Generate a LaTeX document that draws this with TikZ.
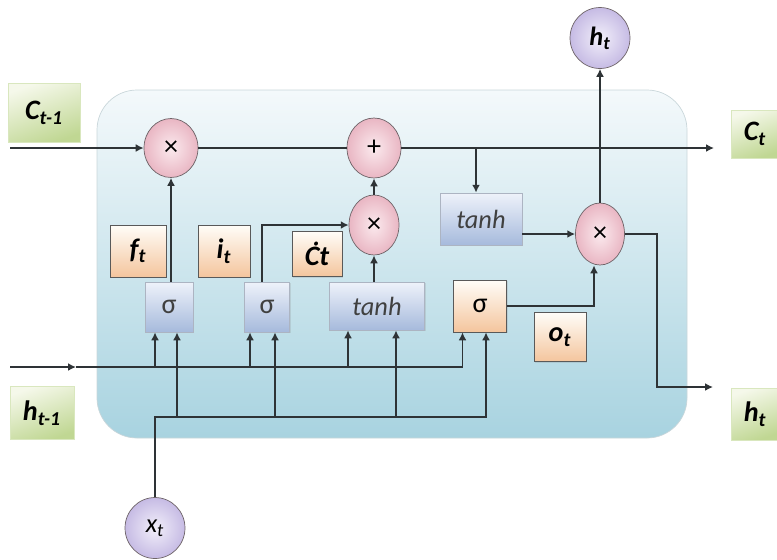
\documentclass[tikz,border=0pt]{standalone}
\usepackage{fontspec}
\setmainfont{Carlito}
\usepackage{tikz}
\usetikzlibrary{
  arrows.meta,
  shapes.geometric,
  positioning,
  calc,
  shadows
}
\definecolor{lsCellTop}{HTML}{F4F9FB}
\definecolor{lsCell}{HTML}{A8D3E0}
\definecolor{lsCellEdge}{HTML}{C9D6DA}
\definecolor{lsPinkIn}{HTML}{FBEAEE}
\definecolor{lsPink}{HTML}{E9B6C3}
\definecolor{lsLavIn}{HTML}{F2EFFA}
\definecolor{lsLav}{HTML}{C6BBE4}
\definecolor{lsBlueTop}{HTML}{EEF2FA}
\definecolor{lsBlue}{HTML}{A6BADC}
\definecolor{lsPeachTop}{HTML}{FFFDF8}
\definecolor{lsPeach}{HTML}{F4C59D}
\definecolor{lsGreenTop}{HTML}{F5F8EA}
\definecolor{lsGreen}{HTML}{C0D793}
\definecolor{lsEdge}{HTML}{6E6468}
\definecolor{lsWire}{HTML}{2E3336}
\tikzset{
  lsnode/.style={
    draw, inner sep=0pt, align=center, font=\fontsize{15}{17}\selectfont
  },
  pointop/.style={lsnode, ellipse, draw=lsEdge, inner color=lsPinkIn, outer color=lsPink,
    font=\fontsize{16}{18}\selectfont},
  vecnode/.style={lsnode, ellipse, draw=lsEdge, inner color=lsLavIn, outer color=lsLav,
    minimum width=1.2cm, minimum height=1.22cm},
  actbox/.style={lsnode, draw=lsBlue!70!black!60, top color=lsBlueTop, bottom color=lsBlue,
    text=black!75, drop shadow={opacity=0.2, shadow xshift=0.8pt, shadow yshift=-0.8pt}},
  gatebox/.style={lsnode, draw=black!65, top color=lsPeachTop, bottom color=lsPeach,
    font=\fontsize{16}{18}\selectfont\bfseries\itshape,
    drop shadow={opacity=0.2, shadow xshift=0.8pt, shadow yshift=-0.8pt}},
  statelabel/.style={lsnode, draw=lsGreen!60, top color=lsGreenTop, bottom color=lsGreen,
    shading angle=20, font=\fontsize{16}{18}\selectfont\bfseries\itshape},
  cellbox/.style={draw=lsCellEdge, rounded corners=0.8cm, top color=lsCellTop, bottom color=lsCell},
  wire/.style={line width=0.9pt, lsWire},
  flow/.style={wire, -{Latex[length=4.5pt, width=4.5pt]}}
}

\begin{document}
\begin{tikzpicture}[x=0.02cm, y=-0.02cm]
  \useasboundingbox (0,0) rectangle (777,559);
  \draw[cellbox] (97,90) rectangle (687,438);

  % outside labels
  \node[statelabel, minimum width=1.44cm, minimum height=1.18cm] (cprev) at (44,113) {C\textsubscript{t-1}};
  \node[statelabel, minimum width=0.96cm, minimum height=0.96cm] (cnext) at (755,134) {C\textsubscript{t}};
  \node[statelabel, minimum width=1.28cm, minimum height=1.06cm] (hprev) at (42,413) {h\textsubscript{t-1}};
  \node[statelabel, minimum width=0.96cm, minimum height=1.04cm] (hnext) at (755,414) {h\textsubscript{t}};

  % pointwise operations
  \node[pointop, minimum width=1.08cm, minimum height=1.18cm] (fmul) at (171,148) {×};
  \node[pointop, minimum width=1.08cm, minimum height=1.2cm] (addop) at (374,148) {+};
  \node[pointop, minimum width=1.0cm, minimum height=1.2cm] (cmul) at (374,225) {×};
  \node[pointop, minimum width=0.98cm, minimum height=1.24cm] (omul) at (600,234) {×};

  % vectors in and out
  \node[vecnode, font=\fontsize{15}{17}\selectfont\bfseries\itshape] (htop) at (600,38) {h\textsubscript{t}};
  \node[vecnode, font=\fontsize{15}{17}\selectfont\itshape] (xt) at (155,528) {x\textsubscript{t}};

  % layers
  \node[actbox, minimum width=0.96cm, minimum height=1.0cm, font=\fontsize{16}{18}\selectfont] (fsig) at (169,307) {σ};
  \node[actbox, minimum width=0.9cm, minimum height=1.0cm, font=\fontsize{16}{18}\selectfont] (isig) at (267,307) {σ};
  \node[actbox, minimum width=1.9cm, minimum height=0.96cm, font=\fontsize{15}{17}\selectfont\itshape] (ctanh) at (377,306) {tanh};
  \node[actbox, minimum width=1.64cm, minimum height=1.04cm, font=\fontsize{15}{17}\selectfont\itshape] (otanh) at (481,219) {tanh};
  \node[gatebox, minimum width=1.06cm, minimum height=1.04cm, font=\fontsize{16}{18}\selectfont] (osig) at (480,306) {σ};

  % gate names
  \node[gatebox, minimum width=1.12cm, minimum height=1.04cm] (ft) at (138,251) {f\textsubscript{t}};
  \node[gatebox, minimum width=1.04cm, minimum height=1.04cm] (it) at (224,251) {i\textsubscript{t}};
  \node[gatebox, minimum width=1.0cm, minimum height=0.9cm] (ct) at (317,254) {Ċt};
  \node[gatebox, minimum width=1.04cm, minimum height=0.98cm] (ot) at (560,337) {o\textsubscript{t}};

  \coordinate (cin) at (10,148);
  \coordinate (cout) at (714,148);
  \coordinate (cbr) at (476,148);
  \coordinate (hin) at (10,367);
  \coordinate (hmid) at (76,367);
  \coordinate (xbus) at (155,417);
  \coordinate (hturn) at (657,387);
  \coordinate (hout) at (713,387);

  % cell state
  \draw[flow] (cin) -- (fmul);
  \draw[wire] (fmul) -- (addop);
  \draw[flow] (addop) -- (cout);
  \draw[flow] (cbr) -- (cbr |- otanh.north);

  % output
  \draw[flow] (otanh.east |- omul) -- (omul);
  \draw[flow] (omul) -- (htop);
  \draw[flow] (omul.east) -| (hturn) -- (hout);
  \draw[flow] (osig.east) -| ([xshift=-0.12cm]omul.south);

  % gates into the products
  \draw[flow] (fmul |- fsig.north) -- (fmul);
  \draw[flow] ([xshift=-0.1cm]isig.north) |- (cmul);
  \draw[flow] (cmul |- ctanh.north) -- (cmul);
  \draw[flow] (cmul) -- (addop);

  % h_{t-1} bus
  \draw[flow] (hin) -- (hmid);
  \draw[flow] (hmid) -| ([xshift=-0.35cm]osig.south);
  \draw[flow] ([xshift=-0.28cm]fsig.south |- hmid) -- ([xshift=-0.28cm]fsig.south);
  \draw[flow] ([xshift=-0.34cm]isig.south |- hmid) -- ([xshift=-0.34cm]isig.south);
  \draw[flow] ([xshift=-0.58cm]ctanh.south |- hmid) -- ([xshift=-0.58cm]ctanh.south);

  % x_t bus
  \draw[flow] (xt.north) -- (xbus) -| ([xshift=0.12cm]osig.south);
  \draw[flow] ([xshift=0.16cm]fsig.south |- xbus) -- ([xshift=0.16cm]fsig.south);
  \draw[flow] ([xshift=0.16cm]isig.south |- xbus) -- ([xshift=0.16cm]isig.south);
  \draw[flow] ([xshift=0.38cm]ctanh.south |- xbus) -- ([xshift=0.38cm]ctanh.south);
\end{tikzpicture}
\end{document}
